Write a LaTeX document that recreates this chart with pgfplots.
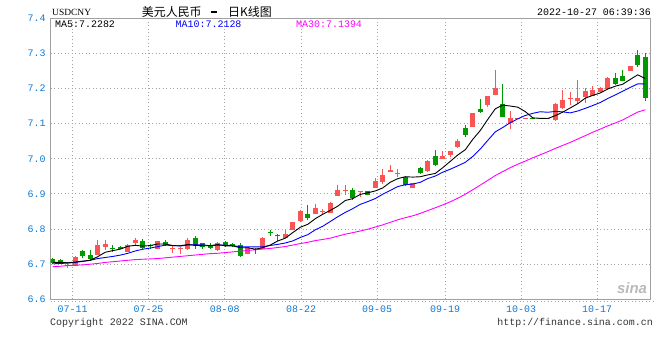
\documentclass[border=0pt]{standalone}
\usepackage{pgfplots}
\usepackage{pgfplotstable}
\pgfplotsset{compat=1.18}
\usepackage{fontspec}
\setmainfont{Liberation Sans}
\setmonofont{Liberation Mono}
\newfontfamily\cjk{Noto Sans CJK SC}
\newfontfamily\titleserif{Liberation Serif}
\definecolor{cred}{RGB}{250,84,84}
\definecolor{cgreen}{RGB}{0,153,0}
\definecolor{axisgray}{RGB}{160,160,160}
\definecolor{gridgray}{RGB}{165,165,165}
\definecolor{tickblue}{RGB}{16,120,208}
\definecolor{maten}{RGB}{0,0,255}
\definecolor{mathirty}{RGB}{255,0,255}
\definecolor{textgray}{RGB}{51,51,51}

% red (up) candles: x open high low close
\pgfplotstableread{
x o h l c
2 6.694 6.705 6.689 6.697
3 6.696 6.722 6.695 6.719
6 6.727 6.770 6.727 6.755
7 6.750 6.770 6.741 6.758
10 6.736 6.757 6.735 6.755
11 6.760 6.774 6.755 6.769
14 6.744 6.767 6.744 6.765
16 6.742 6.751 6.733 6.746
17 6.743 6.750 6.728 6.746
18 6.743 6.774 6.740 6.770
22 6.741 6.763 6.738 6.760
26 6.729 6.750 6.728 6.748
28 6.743 6.776 6.743 6.774
31 6.775 6.798 6.774 6.787
32 6.798 6.821 6.796 6.819
33 6.823 6.853 6.820 6.850
35 6.844 6.870 6.842 6.860
36 6.848 6.857 6.843 6.851
37 6.846 6.877 6.846 6.874
38 6.895 6.924 6.895 6.910
39 6.907 6.924 6.896 6.912
41 6.905 6.909 6.891 6.909
43 6.918 6.945 6.917 6.936
44 6.934 6.970 6.927 6.955
45 6.961 6.983 6.961 6.968
46 6.956 6.972 6.947 6.960
48 6.917 6.931 6.917 6.931
50 6.965 6.997 6.962 6.994
52 7.000 7.023 6.999 7.007
53 7.011 7.022 7.005 7.021
54 7.033 7.056 7.032 7.051
56 7.089 7.131 7.089 7.129
58 7.153 7.179 7.146 7.179
59 7.181 7.252 7.181 7.202
61 7.103 7.136 7.084 7.117
62 7.114 7.117 7.114 7.117
63 7.114 7.117 7.114 7.117
66 7.113 7.116 7.113 7.116
67 7.109 7.158 7.108 7.156
68 7.144 7.196 7.141 7.167
69 7.170 7.190 7.154 7.173
70 7.165 7.224 7.155 7.174
71 7.177 7.200 7.160 7.193
72 7.180 7.207 7.180 7.196
73 7.191 7.203 7.190 7.201
74 7.198 7.232 7.197 7.229
77 7.250 7.264 7.250 7.264
}\redtab

% green (down) candles
\pgfplotstableread{
x o h l c
0 6.715 6.717 6.700 6.703
1 6.712 6.715 6.700 6.703
4 6.738 6.740 6.717 6.722
5 6.727 6.741 6.712 6.715
8 6.746 6.755 6.736 6.743
9 6.750 6.753 6.743 6.743
12 6.765 6.772 6.743 6.747
13 6.755 6.758 6.743 6.751
15 6.763 6.769 6.752 6.755
19 6.774 6.781 6.744 6.753
20 6.760 6.760 6.744 6.749
21 6.753 6.760 6.744 6.747
23 6.762 6.765 6.750 6.752
24 6.758 6.760 6.750 6.752
25 6.755 6.760 6.720 6.722
27 6.743 6.745 6.730 6.739
29 6.791 6.798 6.781 6.788
30 6.784 6.787 6.767 6.780
34 6.844 6.867 6.826 6.831
40 6.912 6.917 6.884 6.887
42 6.908 6.909 6.897 6.898
47 6.948 6.951 6.922 6.925
49 6.973 6.976 6.958 6.960
51 7.007 7.026 6.980 6.981
55 7.087 7.096 7.061 7.068
57 7.142 7.170 7.131 7.133
60 7.156 7.214 7.120 7.120
64 7.116 7.116 7.113 7.113
65 7.116 7.116 7.113 7.113
75 7.229 7.243 7.210 7.213
76 7.236 7.252 7.220 7.222
78 7.295 7.309 7.260 7.267
79 7.289 7.300 7.163 7.173
}\greentab

\pgfplotstableread{
x y
0 6.7050
1 6.7050
2 6.7040
3 6.7060
4 6.7086
5 6.7110
6 6.7214
7 6.7338
8 6.7386
9 6.7428
10 6.7508
11 6.7536
12 6.7514
13 6.7530
14 6.7574
15 6.7574
16 6.7528
17 6.7522
18 6.7560
19 6.7536
20 6.7524
21 6.7526
22 6.7558
23 6.7522
24 6.7520
25 6.7466
26 6.7468
27 6.7426
28 6.7470
29 6.7544
30 6.7660
31 6.7738
32 6.7898
33 6.8050
34 6.8134
35 6.8294
36 6.8420
37 6.8530
38 6.8650
39 6.8812
40 6.8866
41 6.8984
42 6.9032
43 6.9084
44 6.9170
45 6.9332
46 6.9434
47 6.9488
48 6.9478
49 6.9488
50 6.9540
51 6.9582
52 6.9746
53 6.9926
54 7.0108
55 7.0256
56 7.0552
57 7.0804
58 7.1120
59 7.1422
60 7.1526
61 7.1500
62 7.1468
63 7.1342
64 7.1164
65 7.1150
66 7.1146
67 7.1226
68 7.1328
69 7.1446
70 7.1568
71 7.1724
72 7.1804
73 7.1872
74 7.1986
75 7.2064
76 7.2122
77 7.2258
78 7.2390
79 7.2282
}\mafive

\pgfplotstableread{
x y
0 6.7010
1 6.7020
2 6.7030
3 6.7050
4 6.7080
5 6.7110
6 6.7160
7 6.7190
8 6.7220
9 6.7257
10 6.7309
11 6.7375
12 6.7426
13 6.7458
14 6.7501
15 6.7541
16 6.7532
17 6.7518
18 6.7545
19 6.7555
20 6.7549
21 6.7527
22 6.7540
23 6.7541
24 6.7528
25 6.7495
26 6.7497
27 6.7492
28 6.7496
29 6.7532
30 6.7563
31 6.7603
32 6.7662
33 6.7760
34 6.7839
35 6.7977
36 6.8079
37 6.8214
38 6.8350
39 6.8473
40 6.8580
41 6.8702
42 6.8781
43 6.8867
44 6.8991
45 6.9099
46 6.9209
47 6.9260
48 6.9281
49 6.9329
50 6.9436
51 6.9508
52 6.9617
53 6.9702
54 6.9798
55 6.9898
56 7.0067
57 7.0275
58 7.0523
59 7.0765
60 7.0891
61 7.1026
62 7.1136
63 7.1231
64 7.1293
65 7.1338
66 7.1323
67 7.1347
68 7.1335
69 7.1305
70 7.1359
71 7.1435
72 7.1515
73 7.1600
74 7.1716
75 7.1816
76 7.1923
77 7.2031
78 7.2131
79 7.2128
}\maten

\pgfplotstableread{
x y
0 6.6930
1 6.6940
2 6.6960
3 6.6970
4 6.6980
5 6.7000
6 6.7020
7 6.7050
8 6.7070
9 6.7090
10 6.7110
11 6.7130
12 6.7140
13 6.7150
14 6.7160
15 6.7180
16 6.7200
17 6.7220
18 6.7240
19 6.7260
20 6.7280
21 6.7300
22 6.7310
23 6.7330
24 6.7350
25 6.7370
26 6.7390
27 6.7410
28 6.7430
29 6.7448
30 6.7474
31 6.7502
32 6.7543
33 6.7586
34 6.7623
35 6.7671
36 6.7703
37 6.7741
38 6.7797
39 6.7853
40 6.7897
41 6.7944
42 6.7994
43 6.8056
44 6.8119
45 6.8190
46 6.8262
47 6.8322
48 6.8376
49 6.8445
50 6.8526
51 6.8604
52 6.8687
53 6.8776
54 6.8876
55 6.8991
56 6.9118
57 6.9250
58 6.9385
59 6.9522
60 6.9636
61 6.9746
62 6.9845
63 6.9933
64 7.0027
65 7.0112
66 7.0200
67 7.0294
68 7.0380
69 7.0466
70 7.0562
71 7.0657
72 7.0756
73 7.0844
74 7.0936
75 7.1017
76 7.1105
77 7.1218
78 7.1330
79 7.1394
}\mathirtytab

\begin{document}
\begin{tikzpicture}[x=1bp,y=1bp]
\useasboundingbox (0,0) rectangle (660,360);
\begin{axis}[
  at={(50.5bp,60.7bp)}, anchor=south west,
  scale only axis, width=599.5bp, height=281.1bp,
  xmin=-0.3, xmax=79.63, ymin=6.6, ymax=7.4,
  axis line style={draw=axisgray, line width=0.9bp},
  xtick={2.64,12.77,22.93,33.11,43.24,52.31,62.44,72.57},
  xticklabels={07-11,07-25,08-08,08-22,09-05,09-19,10-03,10-17},
  ytick={6.6,6.7,6.8,6.9,7.0,7.1,7.2,7.3,7.4},
  yticklabel={\pgfmathprintnumber[fixed,fixed zerofill,precision=1,assume math mode=true]{\tick}},
  major tick length=0pt,
  xmajorgrids, ymajorgrids,
  grid style={draw=gridgray, line width=1bp, dash pattern=on 1.2bp off 2.3bp},
  yticklabel style={font=\ttfamily\fontsize{10}{12}\selectfont, text=tickblue, inner sep=0pt, anchor=east, xshift=-4.8bp},
  xticklabel style={font=\ttfamily\fontsize{10}{12}\selectfont, text=tickblue, inner sep=0pt, anchor=base, yshift=-13.2bp},
  clip=true,
]
% wicks
\addplot[forget plot, draw=none, mark=none, error bars/.cd, y dir=plus, y explicit, error mark=none,
  error bar style={draw=cred, line width=1bp, solid}]
  table[x=x, y=l, y error plus expr=\thisrow{h}-\thisrow{l}] {\redtab};
\addplot[forget plot, draw=none, mark=none, error bars/.cd, y dir=plus, y explicit, error mark=none,
  error bar style={draw=cgreen, line width=1bp, solid}]
  table[x=x, y=l, y error plus expr=\thisrow{h}-\thisrow{l}] {\greentab};
% bodies
\addplot[forget plot, draw=none, mark=none, error bars/.cd, y dir=plus, y explicit, error mark=none,
  error bar style={draw=cred, line width=5bp, solid}]
  table[x=x, y=o, y error plus expr=\thisrow{c}-\thisrow{o}] {\redtab};
\addplot[forget plot, draw=none, mark=none, error bars/.cd, y dir=plus, y explicit, error mark=none,
  error bar style={draw=cgreen, line width=5bp, solid}]
  table[x=x, y=c, y error plus expr=\thisrow{o}-\thisrow{c}] {\greentab};
% moving averages
\addplot[mathirty, line width=0.9bp, mark=none] table[x=x,y=y] {\mathirtytab};
\addplot[maten, line width=0.9bp, mark=none] table[x=x,y=y] {\maten};
\addplot[black, line width=0.9bp, mark=none] table[x=x,y=y] {\mafive};
\end{axis}
% dotted line under the axis
\draw[gridgray, line width=1bp, dash pattern=on 1.2bp off 2.3bp] (50.5,58.2) -- (654,58.2);
% header texts
\node[anchor=west, inner sep=0pt, font=\titleserif\fontsize{9.5}{11}\selectfont] at (52,348) {USDCNY};
\node[anchor=west, inner sep=0pt, font=\cjk\fontsize{12}{14}\selectfont] at (141.7,348) {美元人民币};
\node[anchor=center, inner sep=0pt] at (213.5,348) {\rule{6bp}{1.1bp}};
\node[anchor=west, inner sep=0pt, font=\cjk\fontsize{12}{14}\selectfont] at (228,348) {日K线图};
\node[anchor=east, inner sep=0pt, font=\ttfamily\fontsize{10}{12}\selectfont] at (651,348) {2022-10-27 06:39:36};
\node[anchor=west, inner sep=0pt, font=\ttfamily\fontsize{10}{12}\selectfont, text=black] at (55,336) {MA5:7.2282};
\node[anchor=west, inner sep=0pt, font=\ttfamily\fontsize{10}{12}\selectfont, text=maten] at (175.5,336) {MA10:7.2128};
\node[anchor=west, inner sep=0pt, font=\ttfamily\fontsize{10}{12}\selectfont, text=mathirty] at (296,336) {MA30:7.1394};
% footer
\node[anchor=west, inner sep=0pt, font=\ttfamily\fontsize{10}{12}\selectfont, text=textgray] at (50,37) {Copyright 2022 SINA.COM};
\node[anchor=east, inner sep=0pt, font=\ttfamily\fontsize{10}{12}\selectfont, text=textgray] at (653,37) {http://finance.sina.com.cn};
% logo
\node[anchor=center, inner sep=0pt, font=\bfseries\itshape\fontsize{15}{16}\selectfont, text=gray!55] at (632,72) {sina};
\end{tikzpicture}
\end{document}
